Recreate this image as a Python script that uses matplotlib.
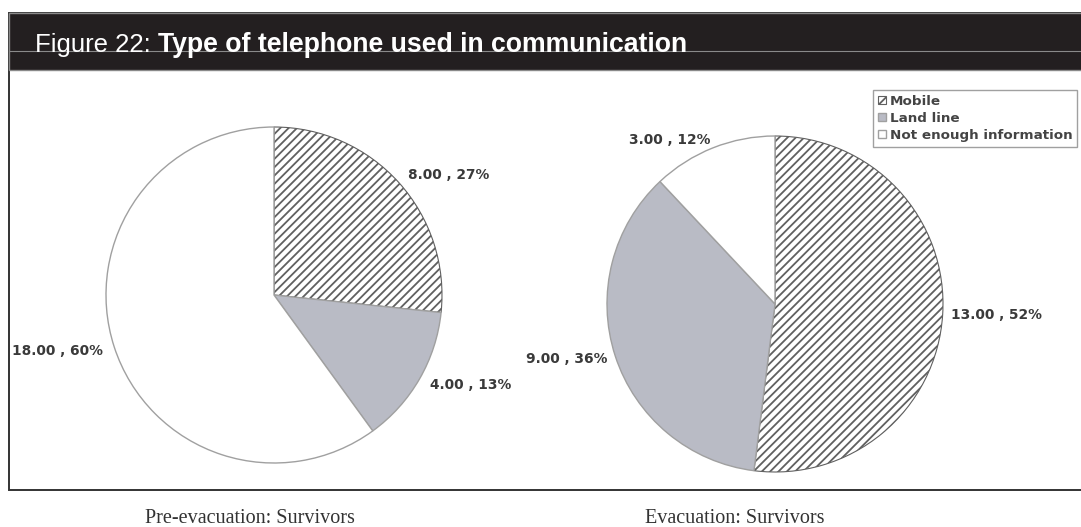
import matplotlib
matplotlib.use("Agg")
import matplotlib.pyplot as plt
from matplotlib.patches import Rectangle

# data
categories = ["Mobile", "Land line", "Not enough information"]
pre_values = [8, 4, 18]
evac_values = [13, 9, 3]
titles = ["Pre-evacuation: Survivors", "Evacuation: Survivors"]

colors = ["white", "#b9bbc5", "white"]
hatches = ["////", "", ""]

W, H = 1081, 527
plt.rcParams["hatch.linewidth"] = 1.3
plt.rcParams["hatch.color"] = "#606060"

fig = plt.figure(figsize=(W / 100, H / 100), dpi=100)
ax = fig.add_axes([0, 0, 1, 1])
ax.set_xlim(0, W)
ax.set_ylim(0, H)
ax.axis("off")


def py(y):
    # pixel row (from top) -> data y
    return H - y


# frame + dark header band
ax.add_patch(Rectangle((9, py(490)), W, 477, fc="white", ec="#333333", lw=1.4, zorder=0))
ax.add_patch(Rectangle((9, py(70)), W, 57, fc="#231f20", ec="#8a8a8a", lw=1.0, zorder=1))
ax.plot([9, W], [py(51), py(51)], color="#8a8a8a", lw=0.8, zorder=2)

t1 = ax.text(35, py(52), "Figure 22: ", color="white", fontsize=18.5,
             family="Liberation Sans", va="baseline", zorder=3)
fig.canvas.draw()
bb = t1.get_window_extent()
ax.text(bb.x1, py(52), "Type of telephone used in communication", color="white",
        fontsize=19.2, family="Liberation Sans", weight="bold", va="baseline", zorder=3)


def make_labels(vals):
    tot = sum(vals)
    return [f"{v:.2f} , {round(100 * v / tot)}%" for v in vals]


def draw_pie(vals, center, r, ldist):
    wedges, texts = ax.pie(vals, labels=make_labels(vals), colors=colors,
                           startangle=90, counterclock=False,
                           center=center, radius=r, labeldistance=ldist,
                           frame=True,
                           wedgeprops=dict(edgecolor="#a0a0a0", linewidth=1.0),
                           textprops=dict(fontsize=9.9, weight="bold", color="#3a3a3a",
                                          family="DejaVu Sans"))
    # align labels relative to this pie's own centre
    for t in texts:
        x, y = t.get_position()
        t.set_ha("right" if x < center[0] else "left")
    for w, h in zip(wedges, hatches):
        if h:
            w.set_hatch(h)
            w.set_edgecolor("#606060")
            w.set_linewidth(0.8)
    return wedges


wedges = draw_pie(pre_values, (274, py(295)), 168, 1.07)
draw_pie(evac_values, (775, py(304)), 168, 1.05)

leg = ax.legend(wedges, categories, loc="upper left", bbox_to_anchor=(873, py(90)),
                bbox_transform=ax.transData, frameon=True, fancybox=False,
                handlelength=0.6, handleheight=0.6, handletextpad=0.3,
                labelspacing=0.3, borderpad=0.35, borderaxespad=0,
                prop=dict(family="DejaVu Sans", weight="bold", size=9.7))
leg.get_frame().set_edgecolor("#888888")
leg.get_frame().set_linewidth(1.0)
for t in leg.get_texts():
    t.set_color("#444444")

# captions under the box
ax.text(250, py(523), titles[0], fontsize=14.5, family="Liberation Serif",
        color="#333333", ha="center", va="baseline")
ax.text(735, py(523), titles[1], fontsize=14.5, family="Liberation Serif",
        color="#333333", ha="center", va="baseline")

ax.set_xlim(0, W)
ax.set_ylim(0, H)
ax.set_aspect("equal")

fig.savefig("out.png", dpi=100)
